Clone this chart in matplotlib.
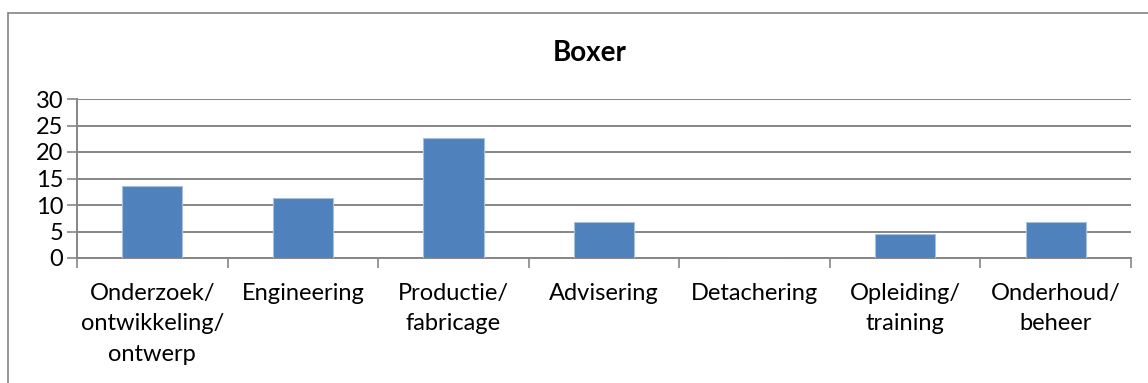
import matplotlib.pyplot as plt
from matplotlib.patches import Rectangle

categories = ['Onderzoek/\nontwikkeling/\nontwerp', 'Engineering', 'Productie/\nfabricage',
              'Advisering', 'Detachering', 'Opleiding/\ntraining', 'Onderhoud/\nbeheer']
values = [13.6, 11.4, 22.7, 6.8, 0.0, 4.5, 6.8]
yticks = [0, 5, 10, 15, 20, 25, 30]

plt.rcParams['font.family'] = ['Lato', 'DejaVu Sans']
grey = '#868686'

fig = plt.figure(figsize=(11.48, 3.83), dpi=100)
ax = fig.add_axes([77 / 1148, 1 - 258 / 383, (1131 - 77) / 1148, (258 - 99) / 383])

x = list(range(len(categories)))
ax.bar(x, values, width=0.4, color='#4F81BD', edgecolor='#A7C0DE', linewidth=0.8, zorder=3)

ax.set_xlim(-0.5, len(categories) - 0.5)
ax.set_ylim(0, 30)
ax.set_yticks(yticks)
ax.set_yticklabels([str(v) for v in yticks])
ax.tick_params(axis='y', length=7, width=1.2, color=grey, labelsize=17, pad=3)
ax.yaxis.grid(True, color=grey, linewidth=1.4, zorder=0)

# category labels centred between boundary ticks
ax.set_xticks([i - 0.5 for i in range(len(categories) + 1)], minor=False)
ax.set_xticklabels([])
ax.tick_params(axis='x', length=7, width=1.2, color=grey)
ax.set_xticks(x, minor=True)
ax.set_xticklabels(categories, minor=True, fontsize=17, linespacing=1.55)
ax.tick_params(axis='x', which='minor', length=0, pad=18)

for side in ['top', 'right']:
    ax.spines[side].set_visible(False)
ax.spines['left'].set_color(grey)
ax.spines['left'].set_linewidth(1.4)
ax.spines['bottom'].set_color(grey)
ax.spines['bottom'].set_linewidth(1.4)

fig.text(590 / 1148, 1 - 53 / 383, 'Boxer', ha='center', va='center',
         fontsize=20, fontweight='bold')

# chart area frame
fig.patches.append(Rectangle((7.5 / 1148, -0.2), 1.2, 1.2 - 12.5 / 383 + 0.0,
                             transform=fig.transFigure, fill=False,
                             edgecolor='#8c8c8c', linewidth=1.3))

fig.savefig('out.png', dpi=100)
